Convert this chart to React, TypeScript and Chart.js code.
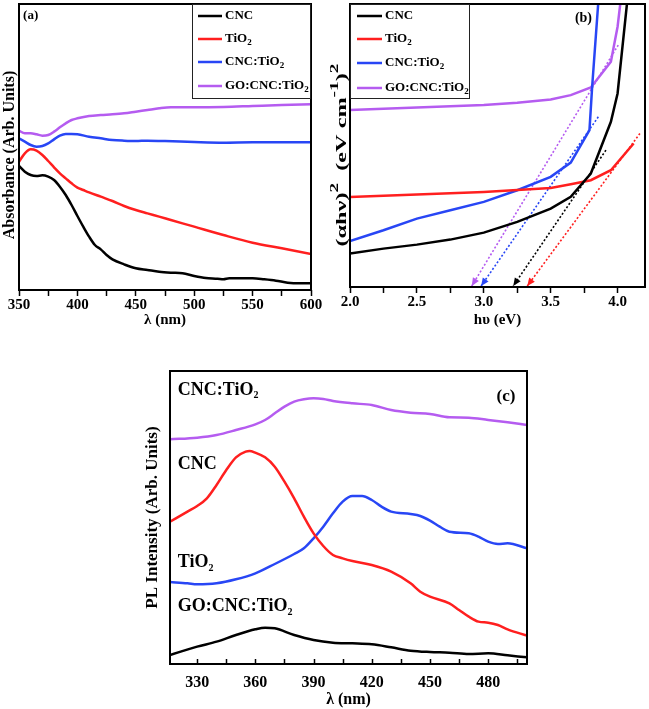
import React, { useEffect, useRef } from "react";
import { Chart, registerables } from "chart.js";
Chart.register(...registerables);

const FONT = "'Liberation Serif', 'Times New Roman', Times, serif";
const BLACK = "#000000";
const RED = "#ff1f1f";
const BLUE = "#2846f5";
const PURPLE = "#b55cf0";

// ---------- Panel (a): absorbance vs wavelength ----------
const A_NAMES = ["CNC", "TiO₂", "CNC:TiO₂", "GO:CNC:TiO₂"];
const A_X_CNC = [350,355,360,365,370,375,380,385,390,395,400,405,410,415,420,425,430,440,450,460,470,480,490,500,510,520,525,530,540,550,560,570,580,590,600];
const A_Y_CNC = [37.2,35.5,34.5,34.2,34.4,34.0,33.0,31.0,28.5,25.5,22.2,19.0,16.0,13.5,12.2,10.5,9.2,7.7,6.5,6.0,5.5,5.2,5.0,4.2,3.6,3.4,3.2,3.5,3.5,3.5,3.2,2.8,2.2,2.0,2.0];
const A_X_TIO2 = [350,355,360,365,370,375,380,385,390,395,400,405,410,420,430,440,450,460,470,480,500,525,550,575,600];
const A_Y_TIO2 = [38.5,41.0,42.2,41.8,40.5,38.7,36.8,35.0,33.5,32.0,30.7,30.0,29.3,28.0,26.7,25.2,24.0,23.0,22.0,21.0,19.0,16.5,14.2,12.5,10.8];
const A_X_CNCTIO2 = [350,355,360,365,370,375,380,385,390,395,400,410,420,430,440,450,460,475,500,525,550,575,600];
const A_Y_CNCTIO2 = [45.5,44.5,43.5,43.0,43.2,44.0,45.2,46.3,46.8,46.8,46.7,46.0,45.5,45.0,44.8,44.7,44.8,44.7,44.4,44.2,44.3,44.3,44.3];
const A_X_GO = [350,355,360,365,370,375,380,385,390,395,400,410,420,430,440,450,460,470,480,500,525,550,575,600];
const A_Y_GO = [47.8,47.0,47.0,46.7,46.3,46.5,47.5,48.8,50.0,51.0,51.5,52.2,52.5,52.7,53.0,53.5,54.0,54.5,54.8,54.8,54.9,55.2,55.5,55.7];
const A_X_TICKS = [350,375,400,425,450,475,500,525,550,575,600];
const A_X_LABELS = [350,400,450,500,550,600];

// ---------- Panel (b): Tauc plot ----------
const B_X_CNC = [2.0,2.25,2.5,2.75,3.0,3.25,3.5,3.65,3.8,3.95,4.0,4.07];
const B_Y_CNC = [10.0,11.5,12.7,14.2,16.3,19.5,23.5,27.0,34.0,49.5,58.0,84.8];
const B_X_TIO2 = [2.0,2.5,3.0,3.5,3.65,3.8,3.95,4.12];
const B_Y_TIO2 = [27.0,27.7,28.5,29.7,30.8,32.0,35.0,43.0];
const B_X_CNCTIO2 = [2.0,2.25,2.5,2.75,3.0,3.25,3.5,3.65,3.79,3.81,3.855];
const B_Y_CNCTIO2 = [13.8,17.0,20.5,23.0,25.5,29.0,33.0,37.3,47.0,60.0,84.8];
const B_X_GO = [2.0,2.5,3.0,3.25,3.5,3.65,3.8,3.95,4.0,4.02];
const B_Y_GO = [53.0,53.8,54.5,55.2,56.2,57.5,59.8,67.5,78.0,84.8];
// extrapolated band-gap tangents (start, end on axis)
const B_TAN_X_CNC = [3.913, 3.22];
const B_TAN_Y_CNC = [41.0, 0.3];
const B_TAN_X_TIO2 = [4.167, 3.325];
const B_TAN_Y_TIO2 = [46.0, 0.3];
const B_TAN_X_CNCTIO2 = [3.856, 2.98];
const B_TAN_Y_CNCTIO2 = [51.0, 0.3];
const B_TAN_X_GO = [4.005, 2.91];
const B_TAN_Y_GO = [72.5, 0.3];
const B_X_TICKS = [2.0,2.25,2.5,2.75,3.0,3.25,3.5,3.75,4.0];
const B_X_LABELS = [2.0,2.5,3.0,3.5,4.0];
const B_Y_TITLE = [
  { t: "(αhν)" }, { t: "2", sup: true }, { t: "  (eV cm" }, { t: "-1", sup: true }, { t: ")" }, { t: "2", sup: true },
];

// ---------- Panel (c): PL spectra ----------
const C_NAMES = ["CNC:TiO₂", "CNC", "TiO₂", "GO:CNC:TiO₂"];
const C_X_PURPLE = [316,330,340,350,360,365,370,375,380,385,390,395,400,410,420,430,440,450,460,470,480,490,500];
const C_Y_PURPLE = [67.4,67.9,68.7,70.2,71.9,73.2,75.2,77.2,78.7,79.4,79.7,79.5,78.9,78.2,77.7,76.2,75.4,75.0,74.0,73.9,73.2,72.5,71.7];
const C_X_RED = [316,325,330,335,340,345,350,355,357,360,365,370,375,380,385,390,395,400,405,410,420,430,440,445,450,460,465,470,475,480,485,490,500];
const C_Y_RED = [42.7,45.7,47.4,49.7,53.7,58.2,62.0,63.7,63.9,63.4,62.0,59.2,54.7,49.7,44.2,39.2,35.4,32.7,31.7,30.9,29.7,27.7,24.2,21.7,20.2,18.2,16.2,14.2,12.7,12.4,11.7,10.4,8.5];
const C_X_BLUE = [316,325,330,340,350,360,370,380,385,390,395,400,405,410,415,420,425,430,440,445,450,455,460,470,475,480,485,490,500];
const C_Y_BLUE = [24.6,24.2,23.9,24.2,25.4,27.2,30.0,33.0,34.7,37.7,41.2,45.2,48.7,50.4,50.4,49.2,47.2,45.7,45.0,44.4,43.0,41.2,39.7,39.2,38.2,36.7,36.0,36.2,34.7];
const C_X_BLACK = [316,330,340,350,360,365,370,380,390,400,410,420,430,440,450,460,470,480,490,500];
const C_Y_BLACK = [2.7,5.2,6.7,8.7,10.4,10.9,10.7,8.7,7.2,6.4,6.2,5.9,5.0,4.0,3.6,3.4,3.0,3.2,2.6,2.0];
const C_X_TICKS = [330,345,360,375,390,405,420,435,450,465,480,495];
const C_X_LABELS = [330,360,390,420,450,480];
// curve-label anchor points (data coordinates)
const C_LABEL_X = [320, 320, 320, 320];
const C_LABEL_Y = [82.2, 59.9, 30.4, 17.2];

const zip = (xs: number[], ys: number[]) => xs.map((x, i) => ({ x, y: ys[i] }));

function drawRich(ctx: CanvasRenderingContext2D, text: string, x: number, y: number, size: number, align: string, subScale = 0.7) {
  const parts = text.split("₂");
  const main = `bold ${size}px ${FONT}`;
  const sub = `bold ${Math.round(size * subScale)}px ${FONT}`;
  let total = 0;
  parts.forEach((p, i) => {
    ctx.font = main;
    total += ctx.measureText(p).width;
    if (i < parts.length - 1) { ctx.font = sub; total += ctx.measureText("2").width; }
  });
  let cx = align === "center" ? x - total / 2 : x;
  ctx.textAlign = "left";
  ctx.textBaseline = "middle";
  ctx.fillStyle = "#000";
  parts.forEach((p, i) => {
    ctx.font = main;
    ctx.fillText(p, cx, y);
    cx += ctx.measureText(p).width;
    if (i < parts.length - 1) {
      ctx.font = sub;
      ctx.fillText("2", cx, y + size * 0.32);
      cx += ctx.measureText("2").width;
    }
  });
}

type Note = { text: string; x: number; y: number; size: number; align: string; sub?: number };
type LegendCfg = { side: string; w: number; h: number; rows: number[]; x0: number; x1: number; tx: number; size: number };
type YTitleCfg = { segs: { t: string; sup?: boolean }[]; size: number; x: number; y: number; len: number };

function makeDecor(cfg: { legend?: LegendCfg; notes?: Note[]; innerTicks?: number; yTitle?: YTitleCfg }) {
  return {
    id: "decor",
    afterDraw(chart: any) {
      const ctx: CanvasRenderingContext2D = chart.ctx;
      const a = chart.chartArea;
      ctx.save();
      // arrowheads
      chart.data.datasets.forEach((ds: any, i: number) => {
        if (!ds.arrow) return;
        const pts = chart.getDatasetMeta(i).data;
        const p1 = pts[pts.length - 1];
        const p0 = pts[pts.length - 2];
        const ang = Math.atan2(p1.y - p0.y, p1.x - p0.x);
        const L = 8, W = 3.5;
        ctx.beginPath();
        ctx.moveTo(p1.x, p1.y);
        ctx.lineTo(p1.x - L * Math.cos(ang) + W * Math.sin(ang), p1.y - L * Math.sin(ang) - W * Math.cos(ang));
        ctx.lineTo(p1.x - L * Math.cos(ang) - W * Math.sin(ang), p1.y - L * Math.sin(ang) + W * Math.cos(ang));
        ctx.closePath();
        ctx.fillStyle = ds.borderColor;
        ctx.fill();
      });
      // frame
      ctx.strokeStyle = "#000";
      ctx.lineWidth = 2;
      ctx.strokeRect(a.left, a.top, a.right - a.left, a.bottom - a.top);
      // inward ticks
      if (cfg.innerTicks) {
        const sx = chart.scales.x;
        ctx.lineWidth = 1.5;
        sx.ticks.forEach((t: any) => {
          const px = Math.round(sx.getPixelForValue(t.value)) + 0.5;
          ctx.beginPath();
          ctx.moveTo(px, a.bottom);
          ctx.lineTo(px, a.bottom - (cfg.innerTicks as number));
          ctx.stroke();
        });
      }
      // custom rotated y title with superscripts
      const yt = cfg.yTitle;
      if (yt) {
        const main = `bold ${yt.size}px ${FONT}`;
        const sup = `bold ${Math.round(yt.size * 0.8)}px ${FONT}`;
        let W = 0;
        yt.segs.forEach((s) => { ctx.font = s.sup ? sup : main; W += ctx.measureText(s.t).width; });
        ctx.save();
        ctx.translate(yt.x, yt.y);
        ctx.rotate(-Math.PI / 2);
        ctx.scale(yt.len / W, 1);
        ctx.fillStyle = "#000";
        ctx.textAlign = "left";
        ctx.textBaseline = "middle";
        let cx = -W / 2;
        yt.segs.forEach((s) => {
          ctx.font = s.sup ? sup : main;
          ctx.fillText(s.t, cx, s.sup ? -yt.size * 0.45 : 0);
          cx += ctx.measureText(s.t).width;
        });
        ctx.restore();
      }
      // legend
      const lg = cfg.legend;
      if (lg) {
        const bx = lg.side === "right" ? a.right - lg.w : a.left;
        const by = a.top;
        ctx.fillStyle = "#fff";
        ctx.fillRect(bx, by, lg.w, lg.h);
        ctx.strokeStyle = "#222";
        ctx.lineWidth = 1;
        ctx.strokeRect(bx + 0.5, by + 0.5, lg.w - 1, lg.h - 1);
        const items = chart.data.datasets.filter((d: any) => !d.noLegend);
        items.forEach((d: any, i: number) => {
          const y = by + lg.rows[i];
          ctx.strokeStyle = d.borderColor;
          ctx.lineWidth = 2.5;
          ctx.beginPath();
          ctx.moveTo(bx + lg.x0, y);
          ctx.lineTo(bx + lg.x1, y);
          ctx.stroke();
          drawRich(ctx, d.label, bx + lg.tx, y, lg.size, "left");
        });
      }
      // notes
      (cfg.notes || []).forEach((n) => {
        const x = chart.scales.x.getPixelForValue(n.x);
        const y = chart.scales.y.getPixelForValue(n.y);
        drawRich(ctx, n.text, x, y, n.size, n.align, n.sub || 0.7);
      });
      ctx.restore();
    },
  };
}

const font = (size: number) => ({ family: FONT, size, weight: "bold" as const });

function xScale(min: number, max: number, ticks: number[], labels: number[], fmt: (v: number) => string, title: string, opts: any) {
  return {
    type: "linear",
    min,
    max,
    afterBuildTicks: (s: any) => { s.ticks = ticks.map((v) => ({ value: v })); },
    afterFit: (s: any) => { s.height = opts.height; },
    ticks: {
      autoSkip: false,
      maxRotation: 0,
      padding: opts.pad,
      color: "#000",
      font: font(opts.tickSize),
      callback: (v: number) => (labels.some((l) => Math.abs(l - v) < 1e-9) ? fmt(v) : ""),
    },
    grid: opts.tl > 0
      ? { display: true, drawOnChartArea: false, drawTicks: true, tickLength: opts.tl, tickColor: "#000", tickWidth: 1.5 }
      : { display: false, drawOnChartArea: false, drawTicks: false },
    border: { display: false },
    title: { display: true, text: title, color: "#000", font: font(opts.titleSize), padding: { top: 0, bottom: opts.titlePad } },
  };
}

function yScale(max: number, title: string, width: number, padTop: number, size: number) {
  return {
    type: "linear",
    min: 0,
    max,
    afterFit: (s: any) => { s.width = width; },
    ticks: { display: false },
    grid: { display: false },
    border: { display: false },
    title: { display: title !== "", text: title, color: "#000", font: font(size), padding: { top: padTop, bottom: 0 } },
  };
}

const line = (label: string, xs: number[], ys: number[], color: string, smooth: boolean) => ({
  label,
  data: zip(xs, ys),
  borderColor: color,
  backgroundColor: color,
  borderWidth: 2.5,
  pointRadius: 0,
  fill: false,
  tension: smooth ? 0.4 : 0,
  cubicInterpolationMode: smooth ? "monotone" : "default",
});

const tangent = (xs: number[], ys: number[], color: string) => ({
  label: "",
  data: zip(xs, ys),
  borderColor: color,
  borderWidth: 1.6,
  borderDash: [2, 2],
  pointRadius: 0,
  fill: false,
  tension: 0,
  noLegend: true,
  arrow: true,
});

const baseOpts = (padding: any, scales: any) => ({
  responsive: false,
  animation: false,
  events: [],
  layout: { padding, autoPadding: false },
  plugins: { legend: { display: false }, tooltip: { enabled: false } },
  scales,
});

function buildA() {
  return {
    type: "line",
    data: {
      datasets: [
        line(A_NAMES[0], A_X_CNC, A_Y_CNC, BLACK, true),
        line(A_NAMES[1], A_X_TIO2, A_Y_TIO2, RED, true),
        line(A_NAMES[2], A_X_CNCTIO2, A_Y_CNCTIO2, BLUE, true),
        line(A_NAMES[3], A_X_GO, A_Y_GO, PURPLE, true),
      ],
    },
    options: baseOpts({ left: 0, top: 4, right: 19, bottom: 0 }, {
      x: xScale(350, 600, A_X_TICKS, A_X_LABELS, (v) => String(v), "λ (nm)", { height: 45, pad: 0, tickSize: 15, tl: 6, titleSize: 15, titlePad: 6 }),
      y: yScale(85.8, "Absorbance (Arb. Units)    ", 19, 0.5, 16),
    }),
    plugins: [makeDecor({
      legend: { side: "right", w: 119, h: 95, rows: [12, 35, 58, 82], x0: 6, x1: 30, tx: 33, size: 13 },
      notes: [{ text: "(a)", x: 353.5, y: 82.2, size: 13, align: "left" }],
    })],
  } as any;
}

function buildB() {
  return {
    type: "line",
    data: {
      datasets: [
        line(A_NAMES[0], B_X_CNC, B_Y_CNC, BLACK, false),
        line(A_NAMES[1], B_X_TIO2, B_Y_TIO2, RED, false),
        line(A_NAMES[2], B_X_CNCTIO2, B_Y_CNCTIO2, BLUE, false),
        line(A_NAMES[3], B_X_GO, B_Y_GO, PURPLE, false),
        tangent(B_TAN_X_CNC, B_TAN_Y_CNC, BLACK),
        tangent(B_TAN_X_TIO2, B_TAN_Y_TIO2, RED),
        tangent(B_TAN_X_CNCTIO2, B_TAN_Y_CNCTIO2, BLUE),
        tangent(B_TAN_X_GO, B_TAN_Y_GO, PURPLE),
      ],
    },
    options: baseOpts({ left: 0, top: 4, right: 4, bottom: 0 }, {
      x: xScale(2.0, 4.205, B_X_TICKS, B_X_LABELS, (v) => v.toFixed(1), "hυ (eV)", { height: 48, pad: 0, tickSize: 15, tl: 6, titleSize: 15, titlePad: 6 }),
      y: yScale(84.8, "", 30, 0, 15),
    }),
    plugins: [makeDecor({
      legend: { side: "left", w: 120, h: 95, rows: [12, 35, 59, 84], x0: 7, x1: 32, tx: 35, size: 13 },
      notes: [{ text: "(b)", x: 3.745, y: 80.5, size: 14, align: "center" }],
      yTitle: { segs: B_Y_TITLE, size: 15, x: 22, y: 155, len: 183 },
    })],
  } as any;
}

function buildC() {
  return {
    type: "line",
    data: {
      datasets: [
        line(C_NAMES[0], C_X_PURPLE, C_Y_PURPLE, PURPLE, true),
        line(C_NAMES[1], C_X_RED, C_Y_RED, RED, true),
        line(C_NAMES[2], C_X_BLUE, C_Y_BLUE, BLUE, true),
        line(C_NAMES[3], C_X_BLACK, C_Y_BLACK, BLACK, true),
      ],
    },
    options: baseOpts({ left: 10, top: 5, right: 23, bottom: 0 }, {
      x: xScale(316, 500, C_X_TICKS, C_X_LABELS, (v) => String(v), "λ (nm)", { height: 45, pad: 9, tickSize: 16, tl: 0, titleSize: 16, titlePad: 0 }),
      y: yScale(87.9, "PL Intensity (Arb. Units)", 30, 2, 17),
    }),
    plugins: [makeDecor({
      innerTicks: 5,
      notes: [
        ...C_NAMES.map((t, i) => ({ text: t, x: C_LABEL_X[i], y: C_LABEL_Y[i], size: 18, align: "left", sub: 0.55 })),
        { text: "(c)", x: 489.2, y: 80.2, size: 17, align: "center" },
      ],
    })],
  } as any;
}

function Panel(props: { left: number; top: number; width: number; height: number; build: () => any }) {
  const ref = useRef<HTMLCanvasElement | null>(null);
  useEffect(() => {
    const chart = new Chart(ref.current as HTMLCanvasElement, props.build());
    return () => chart.destroy();
  }, []);
  return (
    <canvas
      ref={ref}
      width={props.width}
      height={props.height}
      style={{ position: "absolute", left: props.left, top: props.top, width: props.width, height: props.height }}
    />
  );
}

export default function App() {
  return (
    <div style={{ position: "absolute", left: 0, top: 0, width: 649, height: 709, background: "#fff", overflow: "hidden" }}>
      <Panel left={0} top={0} width={330} height={335} build={buildA} />
      <Panel left={320} top={0} width={329} height={335} build={buildB} />
      <Panel left={130} top={366} width={420} height={343} build={buildC} />
    </div>
  );
}
